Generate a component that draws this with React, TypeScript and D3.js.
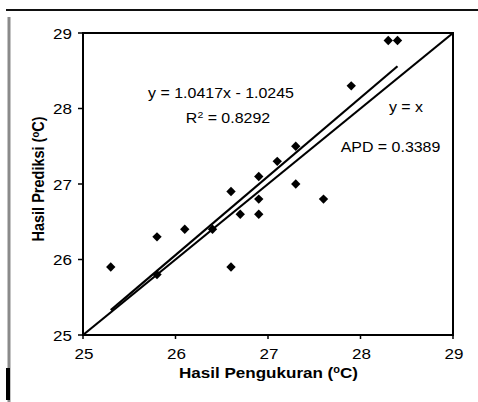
import React from "react";
import * as d3 from "d3";

const measured: number[] = [25.3, 25.8, 25.8, 26.1, 26.4, 26.6, 26.6, 26.7, 26.9, 26.9, 26.9, 27.1, 27.3, 27.3, 27.6, 27.9, 28.3, 28.4];
const predicted: number[] = [25.9, 26.3, 25.8, 26.4, 26.4, 26.9, 25.9, 26.6, 27.1, 26.8, 26.6, 27.3, 27.0, 27.5, 26.8, 28.3, 28.9, 28.9];
const ticks: number[] = [25, 26, 27, 28, 29];
const slope = 1.0417;
const intercept = -1.0245;
const trendRange: number[] = [25.3, 28.4];
const identityRange: number[] = [25, 29];
const eqLabel = "y = 1.0417x - 1.0245";
const r2Value = "0.8292";
const apdLabel = "APD = 0.3389";
const identityLabel = "y = x";

const W = 478;
const H = 402;
const SX = 1.1;

export default function App() {
  const x = d3.scaleLinear().domain([25, 29]).range([83, 453]);
  const y = d3.scaleLinear().domain([25, 29]).range([335, 33]);
  const line = d3
    .line<[number, number]>()
    .x((d) => x(d[0]))
    .y((d) => y(d[1]));
  const trendPts: [number, number][] = trendRange.map((v) => [v, slope * v + intercept]);
  const idPts: [number, number][] = identityRange.map((v) => [v, v]);
  const diamond = d3.symbol(d3.symbolSquare, 44)() as string;
  const font = "'Liberation Sans', Arial, sans-serif";
  const st = (cx: number, cy: number) => `translate(${cx},${cy}) scale(${SX},1)`;

  return (
    <svg
      width={W}
      height={H}
      style={{ position: "absolute", left: 0, top: 0, background: "#fff" }}
      fontFamily={font}
    >
      <rect x={0} y={0} width={W} height={H} fill="#fff" />
      {/* scan frame pieces */}
      <line x1={6} x2={478} y1={10} y2={10} stroke="#111" strokeWidth={2} />
      <line x1={9} x2={9} y1={17} y2={402} stroke="#8a8a8a" strokeWidth={3} />
      <rect x={6} y={368} width={4} height={32} fill="#000" />

      {/* identity line */}
      <path d={line(idPts) || ""} fill="none" stroke="#000" strokeWidth={2.2} />
      {/* trend line */}
      <path d={line(trendPts) || ""} fill="none" stroke="#000" strokeWidth={2.2} />

      {/* points */}
      {measured.map((m, i) => (
        <path
          key={i}
          d={diamond}
          transform={`translate(${x(m)},${y(predicted[i])}) rotate(45)`}
          fill="#000"
        />
      ))}

      {/* plot frame */}
      <rect
        x={x(25)}
        y={y(29)}
        width={x(29) - x(25)}
        height={y(25) - y(29)}
        fill="none"
        stroke="#000"
        strokeWidth={2}
      />

      {/* y ticks */}
      {ticks.map((t) => (
        <g key={"y" + t}>
          <line x1={x(25) - 5} x2={x(25)} y1={y(t)} y2={y(t)} stroke="#000" strokeWidth={1.5} />
          <text transform={st(72, y(t))} dy="0.36em" textAnchor="end" fontSize={15.5} fill="#000">
            {t}
          </text>
        </g>
      ))}
      {/* x ticks */}
      {ticks.map((t) => (
        <g key={"x" + t}>
          <line x1={x(t)} x2={x(t)} y1={y(25)} y2={y(25) + 4} stroke="#000" strokeWidth={1.5} />
          <text transform={st(x(t) + 1, 359)} textAnchor="middle" fontSize={15.5} fill="#000">
            {t}
          </text>
        </g>
      ))}

      {/* annotations */}
      <text transform={st(221, 98)} textAnchor="middle" fontSize={14.5} fill="#000">
        {eqLabel}
      </text>
      <text transform={st(228, 123)} textAnchor="middle" fontSize={14.5} fill="#000">
        R<tspan dy={-5} fontSize={9.5}>2</tspan>
        <tspan dy={5}>{" = " + r2Value}</tspan>
      </text>
      <text transform={st(406, 112)} textAnchor="middle" fontSize={14.5} fill="#000">
        {identityLabel}
      </text>
      <text transform={st(390.5, 152)} textAnchor="middle" fontSize={14.5} fill="#000">
        {apdLabel}
      </text>

      {/* axis titles */}
      <text transform={st(268.5, 378)} textAnchor="middle" fontSize={15.5} fontWeight="bold" fill="#000">
        Hasil Pengukuran (<tspan dy={-5} fontSize={10}>o</tspan>
        <tspan dy={5}>C)</tspan>
      </text>
      <text
        transform={`translate(44,179) scale(${SX},1) rotate(-90)`}
        textAnchor="middle"
        fontSize={14.5}
        fontWeight="bold"
        fill="#000"
      >
        Hasil Prediksi (<tspan dy={-5} fontSize={9.5}>o</tspan>
        <tspan dy={5}>C)</tspan>
      </text>
    </svg>
  );
}
